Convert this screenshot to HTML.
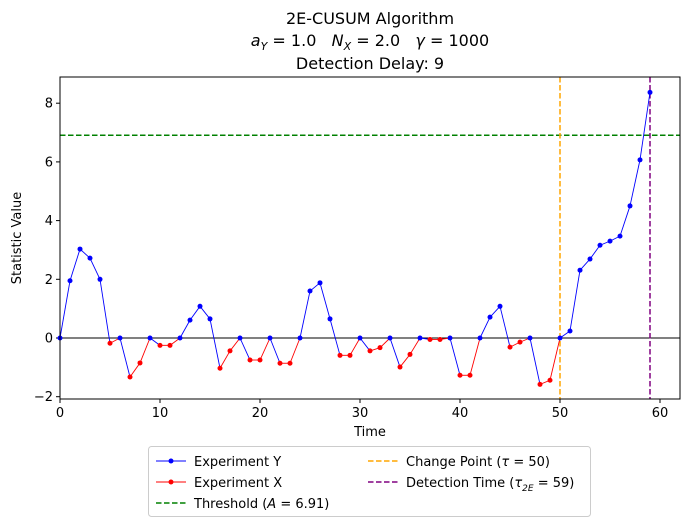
<!DOCTYPE html>
<html><head><meta charset="utf-8"><style>
html,body{margin:0;padding:0;background:#fff;}
svg{display:block;font-family:"DejaVu Sans","Liberation Sans",sans-serif;}
</style></head><body>
<svg id="svg" width="690" height="527" viewBox="0 0 690 527" xmlns="http://www.w3.org/2000/svg">
<rect width="690" height="527" fill="#fff"/>
<g font-size="16" text-anchor="middle" fill="#000">
<text x="370" y="24">2E-CUSUM Algorithm</text>
<text x="370" y="46"><tspan font-style="italic">a</tspan><tspan font-style="italic" font-size="11" dy="4">Y</tspan><tspan dy="-4">&#160;= 1.0&#160;&#160;&#160;</tspan><tspan font-style="italic">N</tspan><tspan font-style="italic" font-size="11" dy="4">X</tspan><tspan dy="-4">&#160;= 2.0&#160;&#160;&#160;</tspan><tspan font-style="italic">γ</tspan><tspan>&#160;= 1000</tspan></text>
<text x="370" y="69">Detection Delay: 9</text>
</g>
<g id="plot"></g>
<rect x="60" y="77" width="620" height="322" fill="none" stroke="#000" stroke-width="1"/>
<g font-size="13" fill="#000">
<text x="370" y="436" text-anchor="middle">Time</text>
<text transform="translate(21,238) rotate(-90)" text-anchor="middle">Statistic Value</text>
</g>
<g id="legend">
<rect x="148.5" y="446.5" width="442" height="70" rx="3" fill="#fff" stroke="#ccc"/>
<g font-size="13" fill="#000">
<line x1="156" y1="461" x2="186" y2="461" stroke="#00f" stroke-width="1"/><circle cx="171" cy="461" r="2.5" fill="#00f"/>
<text x="194" y="466">Experiment Y</text>
<line x1="156" y1="482" x2="186" y2="482" stroke="#f00" stroke-width="1"/><circle cx="171" cy="482" r="2.5" fill="#f00"/>
<text x="194" y="487">Experiment X</text>
<line x1="156" y1="503" x2="186" y2="503" stroke="#008000" stroke-width="1.5" stroke-dasharray="5.5,2.5"/>
<text x="194" y="508">Threshold (<tspan font-style="italic">A</tspan> = 6.91)</text>
<line x1="368" y1="461" x2="398" y2="461" stroke="#ffa500" stroke-width="1.5" stroke-dasharray="5.5,2.5"/>
<text x="406" y="466">Change Point (<tspan font-style="italic">τ</tspan> = 50)</text>
<line x1="368" y1="482" x2="398" y2="482" stroke="#800080" stroke-width="1.5" stroke-dasharray="5.5,2.5"/>
<text x="406" y="487">Detection Time (<tspan font-style="italic">τ</tspan><tspan font-size="9" font-style="italic" dy="4">2E</tspan><tspan dy="-4">&#160;= 59)</tspan></text>
</g>
</g>
</svg>
<script>
var v=[0,1.95,3.03,2.72,2.0,-0.18,0,-1.33,-0.85,0,-0.25,-0.25,0,0.61,1.08,0.65,-1.03,-0.44,0,-0.75,-0.75,0,-0.86,-0.86,0,1.6,1.88,0.65,-0.59,-0.59,0,-0.44,-0.33,0,-0.99,-0.56,0,-0.05,-0.05,0,-1.27,-1.27,0,0.71,1.08,-0.31,-0.14,0,-1.58,-1.44,0,0.24,2.31,2.69,3.16,3.30,3.47,4.5,6.07,8.37];
function X(t){return 60+10*t;} function Y(y){return 338-29.35*y;}
var s='';
[-2,0,2,4,6,8].forEach(function(y){var p=Y(y);s+='<line x1="56" y1="'+p+'" x2="60" y2="'+p+'" stroke="#000"/><text x="53" y="'+(p+4.5)+'" font-size="13" text-anchor="end">'+(y<0?'\u2212'+(-y):y)+'</text>';});
[0,10,20,30,40,50,60].forEach(function(t){var p=X(t);s+='<line x1="'+p+'" y1="399" x2="'+p+'" y2="403" stroke="#000"/><text x="'+p+'" y="417" font-size="13" text-anchor="middle">'+t+'</text>';});
s+='<line x1="60" y1="'+Y(0)+'" x2="680" y2="'+Y(0)+'" stroke="#000" stroke-width="1"/>';
s+='<line x1="60" y1="'+Y(6.91)+'" x2="680" y2="'+Y(6.91)+'" stroke="#008000" stroke-width="1.5" stroke-dasharray="5.5,2.5"/>';
s+='<line x1="560" y1="77" x2="560" y2="399" stroke="#ffa500" stroke-width="1.5" stroke-dasharray="5.5,2.5"/>';
s+='<line x1="650" y1="77" x2="650" y2="399" stroke="#800080" stroke-width="1.5" stroke-dasharray="5.5,2.5"/>';
for(var i=0;i<v.length-1;i++){var c=v[i]<0?'#f00':'#00f';s+='<line x1="'+X(i)+'" y1="'+Y(v[i])+'" x2="'+X(i+1)+'" y2="'+Y(v[i+1])+'" stroke="'+c+'" stroke-width="0.9"/>';}
for(var i=0;i<v.length;i++){var c=v[i]<0?'#f00':'#00f';s+='<circle cx="'+X(i)+'" cy="'+Y(v[i])+'" r="2.5" fill="'+c+'"/>';}
var ns='http://www.w3.org/2000/svg';
var tmp=new DOMParser().parseFromString('<svg xmlns="'+ns+'">'+s+'</svg>','image/svg+xml').documentElement;
var g=document.getElementById('plot');
while(tmp.firstChild){g.appendChild(document.importNode(tmp.firstChild,true));tmp.removeChild(tmp.firstChild);}
</script>
</body></html>
